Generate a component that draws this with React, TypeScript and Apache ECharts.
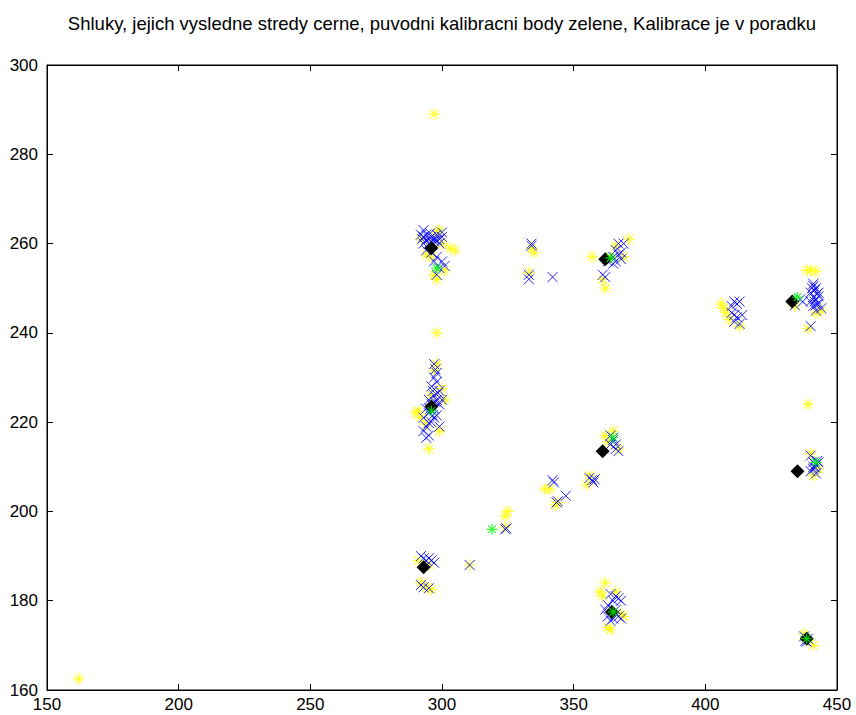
import React, { useEffect, useRef } from "react";
import * as echarts from "echarts";

const titleText = "Shluky, jejich vysledne stredy cerne, puvodni kalibracni body zelene, Kalibrace je v poradku";
const xTicks = [150, 200, 250, 300, 350, 400, 450];
const yTicks = [160, 180, 200, 220, 240, 260, 280, 300];

const yellowPts: number[][] = [
  [297, 289], [292, 261], [294, 257.5], [296, 257], [298, 262.5], [300, 260], [303, 259], [305, 258.5], [298, 252], [297, 253], [301, 254], [299, 263],
  [298, 240], [290, 222], [291, 222.5], [292, 221], [298, 233], [300, 227.5], [301, 225], [295, 214], [294, 219.5], [299, 218], [297, 231.5], [296, 226],
  [292, 184], [294, 183], [296, 182.5], [291, 189], [295, 188],
  [310.5, 188], [324, 199], [325, 200], [324, 196.5],
  [333, 253.5], [335, 258], [334, 259],
  [339, 205], [341, 205], [343, 201.5], [344, 202], [355, 206], [356, 208],
  [357, 257], [371, 261], [362, 250], [361, 252], [364, 257], [369, 257], [366, 259.5],
  [362, 217], [365, 218], [367, 214], [363, 215.5],
  [362, 184], [361, 181], [360, 182], [363, 174], [369, 176.5], [366, 182], [364, 173.5], [368, 177],
  [406, 246.5], [407, 245.5], [409, 243], [408, 244.5], [413, 241.5],
  [434, 246],
  [438.5, 254], [440, 254], [442, 253.8], [444, 245], [439, 241], [442, 244.5],
  [439, 224], [440, 213], [443, 209.5], [441, 208],
  [441, 170], [437.5, 172.5],
  [162, 162.5]
];

const bluePts: number[][] = [
  [292, 262], [293, 261.5], [294, 262], [295, 261], [296, 261.5], [297, 261], [298, 262], [299, 261], [300, 261.5], [293, 260], [295, 260], [297, 260.5], [299, 260], [294, 258.5], [296, 258], [298, 257], [300, 256], [301, 255], [299, 254.5], [298, 253], [297, 256], [293, 263], [300, 262.5],
  [294, 260.8], [296, 260.3], [298, 260.8], [292.5, 261], [295.5, 262.3],
  [297, 233], [298, 231], [297, 230], [298, 229], [296, 228], [299, 227], [297, 226], [295, 225], [298, 225], [296, 224], [294, 223], [299, 224], [295, 222], [297, 221], [293, 221], [296, 220], [294, 219], [299, 219], [293, 218], [295, 217], [298, 221.5], [300, 225], [297, 223], [294, 216.5],
  [297.5, 231.8], [296.5, 227], [298.5, 226.5], [297.5, 224.5], [295.5, 223], [296.5, 221.5], [295, 219.8],
  [292, 190], [293, 189.5], [294, 189], [295, 189.5], [296, 189], [297, 188.5], [292, 183.5], [293, 183], [295, 182.8],
  [310.5, 188], [324, 196], [324.5, 196.2],
  [333, 253], [333, 252], [334, 259.5], [334, 260], [342, 252.5],
  [342, 207], [342.5, 206.5], [343.5, 202], [344, 202.3], [347, 203.5],
  [356, 207.5], [357, 207], [358, 207.2], [357.5, 206.5],
  [361, 253], [362, 252.5], [363, 256], [365, 257], [366, 256], [367, 257.5], [368, 258], [367, 260], [369, 260], [366, 258.5], [368, 256.5], [365, 255.5],
  [364, 217], [365, 216.5], [365, 216], [366, 215], [366, 214], [367, 213.5], [364, 215],
  [364, 181.5], [365, 180], [366, 181], [363, 179], [362, 178], [367, 180.5], [368, 180], [366, 178], [363, 176.5], [364, 175.5], [365, 176], [367, 176.5], [368, 176], [366, 177],
  [410, 246], [411, 247], [412, 246.5], [413, 247], [410, 244.5], [411, 244], [412, 243.5], [413, 242], [411, 242.5], [414, 244],
  [436, 247.5], [437, 247], [434, 246.2],
  [441, 250.5], [442, 250], [440, 249], [443, 249], [441, 248], [442, 247.5], [440, 247], [443, 246.5], [441, 246], [442, 245], [444, 245.5], [441, 251], [443, 248.2], [440, 241.5],
  [441.5, 249.5], [442.5, 248.8], [441.5, 247], [442, 246.2], [440.5, 250],
  [441, 211], [442, 210.5], [441, 209.5], [440, 212.5], [443, 211], [440, 209], [442, 208.5], [441, 210],
  [441.8, 209.8], [442.5, 211.3],
  [437.5, 172], [438, 171], [439, 171.5], [438.5, 170.8]
];

const centerPts: number[][] = [
  [296, 259], [296, 223.5], [293, 187.5], [362, 256.5], [361, 213.5], [364.5, 177.5], [433, 247], [435, 209], [438.5, 171.5]
];

const greenPts: number[][] = [
  [298, 254.5], [296, 222.5], [319, 196], [364, 256.8], [365, 216.5], [365, 177.5], [435, 248], [442, 211], [438.5, 171.5]
];

const STAR = "path://M5,0 L5,10 M0,5 L10,5 M1.5,1.5 L8.5,8.5 M1.5,8.5 L8.5,1.5";
const CROSS = "path://M0,0 L10,10 M0,10 L10,0";

export default function App() {
  const ref = useRef<HTMLDivElement>(null);
  useEffect(() => {
    if (!ref.current) return;
    const chart = echarts.init(ref.current, null, { renderer: "svg" });
    const font = "Liberation Sans, Arial, sans-serif";
    const axisCommon = {
      type: "value" as const,
      axisLine: { show: true, onZero: false, lineStyle: { color: "#000", width: 1 } },
      axisTick: { show: true, inside: true, length: 6, lineStyle: { color: "#000" } },
      splitLine: { show: false },
    };
    chart.setOption({
      animation: false,
      backgroundColor: "#fff",
      title: {
        text: titleText,
        left: 437,
        textAlign: "center",
        top: 9,
        textStyle: { fontFamily: font, fontSize: 18.5, fontWeight: "normal", color: "#000" },
      },
      grid: { left: 47, right: 19, top: 65, bottom: 25, show: true, borderColor: "#000", borderWidth: 1 },
      xAxis: [
        {
          ...axisCommon, position: "bottom", min: 150, max: 450, interval: 50,
          axisLabel: { color: "#000", fontFamily: font, fontSize: 17, margin: 6 },
        },
        {
          ...axisCommon, position: "top", min: 150, max: 450, interval: 50,
          axisLabel: { show: false },
        },
      ],
      yAxis: [
        {
          ...axisCommon, position: "left", min: 160, max: 300, interval: 20,
          axisLabel: { color: "#000", fontFamily: font, fontSize: 17, margin: 9 },
        },
        {
          ...axisCommon, position: "right", min: 160, max: 300, interval: 20,
          axisLabel: { show: false },
        },
      ],
      series: [
        {
          type: "scatter", data: yellowPts, symbol: STAR, symbolSize: 12,
          itemStyle: { color: "none", borderColor: "#ffff00", borderWidth: 1.2 },
        },
        {
          type: "scatter", data: bluePts, symbol: CROSS, symbolSize: 10,
          itemStyle: { color: "none", borderColor: "#0000ff", borderWidth: 1, opacity: 0.85 },
        },
        {
          type: "scatter", data: centerPts, symbol: "diamond", symbolSize: 14,
          itemStyle: { color: "#000", opacity: 1 },
        },
        {
          type: "scatter", data: greenPts, symbol: STAR, symbolSize: 11,
          itemStyle: { color: "none", borderColor: "#00ff00", borderWidth: 1.2 },
        },
      ],
    });
    return () => chart.dispose();
  }, []);
  return (
    <div
      ref={ref}
      style={{ position: "fixed", left: 0, top: 0, width: 856, height: 715, background: "#fff" }}
    />
  );
}
